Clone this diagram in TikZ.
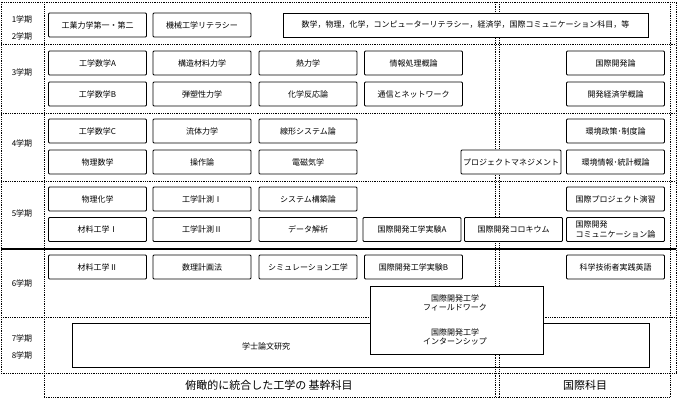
\documentclass[tikz,border=0pt]{standalone}
\usepackage{fontspec}
\setmainfont{Noto Sans CJK JP}
\usetikzlibrary{positioning}
\tikzset{
    course/.style={draw, fill=white, line width=0.8pt, rounded corners=1pt, minimum width=98pt, minimum height=24pt, inner sep=1pt, font=\fontsize{8}{9.5}\selectfont},
    term/.style={font=\fontsize{8}{9.5}\selectfont},
    grid/.style={densely dotted, line width=0.8pt}
}
\begin{document}
\begin{tikzpicture}[x=1pt, y=-1pt]
    \useasboundingbox (0,0) rectangle (679,400);

    % Grid of terms
    \draw[grid] (1,2) rectangle (676,373);
    \draw[grid] (44,2) -- (44,397);
    \foreach \yy in {44,113,181,317} \draw[grid] (1,\yy) -- (676,\yy);
    \draw[line width=1.6pt] (1,249) -- (676,249);
    \draw[grid] (495,2) -- (495,397);
    \draw[grid] (499,2) -- (499,397);
    \draw[grid] (670,2) -- (670,397);
    \draw[grid] (44,397) -- (670,397);

    % Term labels
    \node[term] (t1) at (22,19) {1学期};
    \node[term] (t2) at (22,36) {2学期};
    \node[term] (t3) at (22,72) {3学期};
    \node[term] (t4) at (22,143) {4学期};
    \node[term] (t5) at (22,213) {5学期};
    \node[term] (t6) at (22,283) {6学期};
    \node[term] (t7) at (22,338) {7学期};
    \node[term] (t8) at (22,355) {8学期};

    % Column labels
    \node[font=\fontsize{11}{12}\selectfont] (kikan) at (269,385) {俯瞰的に統合した工学の 基幹科目};
    \node[font=\fontsize{11}{12}\selectfont] (kokusai) at (585,385) {国際科目};

    % 1-2 terms
    \node[course] (kogyo) at (97.5,25) {工業力学第一・第二};
    \node[course] (kikai) at (202,25) {機械工学リテラシー};
    \node[course, minimum width=365pt, rounded corners=0pt] (kyoyo) at (465.5,25)
        {数学，物理，化学，コンピューターリテラシー，経済学，国際コミュニケーション科目，等};

    % 3 term
    \node[course] (suA) at (97.5,63) {工学数学A};
    \node[course] (kozo) at (202,63) {構造材料力学};
    \node[course] (netsu) at (308,63) {熱力学};
    \node[course] (joho) at (413.5,63) {情報処理概論};
    \node[course] (kaihatsu) at (615.5,63) {国際開発論};
    \node[course] (suB) at (97.5,94) {工学数学B};
    \node[course] (dan) at (202,94) {弾塑性力学};
    \node[course] (kagaku) at (308,94) {化学反応論};
    \node[course] (tsushin) at (413.5,94) {通信とネットワーク};
    \node[course] (keizai) at (615.5,94) {開発経済学概論};

    % 4 term
    \node[course] (suC) at (97.5,131) {工学数学C};
    \node[course] (ryutai) at (202,131) {流体力学};
    \node[course] (senkei) at (308,131) {線形システム論};
    \node[course] (seisaku) at (615.5,131) {環境政策･制度論};
    \node[course] (butsuri) at (97.5,162) {物理数学};
    \node[course] (sosa) at (202,162) {操作論};
    \node[course] (denji) at (308,162) {電磁気学};
    \node[course, minimum width=100pt] (pm) at (511,162) {プロジェクトマネジメント};
    \node[course] (tokei) at (615.5,162) {環境情報･統計概論};

    % 5 term
    \node[course] (buka) at (97.5,199) {物理化学};
    \node[course] (keisoku1) at (202,199) {工学計測Ⅰ};
    \node[course] (system) at (308,199) {システム構築論};
    \node[course] (enshu) at (615.5,199) {国際プロジェクト演習};
    \node[course] (zairyo1) at (97.5,229.5) {材料工学Ⅰ};
    \node[course] (keisoku2) at (202,229.5) {工学計測Ⅱ};
    \node[course] (data) at (308,229.5) {データ解析};
    \node[course] (jikkenA) at (412,229.5) {国際開発工学実験A};
    \node[course] (colloq) at (513.5,229.5) {国際開発コロキウム};
    \node[course, align=left] (comm) at (615.5,229.5) {国際開発\\コミュニケーション論};

    % 6 term
    \node[course] (zairyo2) at (97.5,267) {材料工学Ⅱ};
    \node[course] (suri) at (202,267) {数理計画法};
    \node[course] (sim) at (308,267) {シミュレーション工学};
    \node[course] (jikkenB) at (413.5,267) {国際開発工学実験B};
    \node[course] (eigo) at (615.5,267) {科学技術者実践英語};

    % 7-8 terms
    \node[draw, line width=0.8pt, minimum width=577pt, minimum height=44pt] (sotsuron) at (360.5,345) {};
    \node[term] (sotsuronlabel) at (266,346) {学士論文研究};
    \node[draw, fill=white, line width=0.8pt, minimum width=173pt, minimum height=68pt] (field) at (456.5,320) {};
    \node[term, align=center] (fw) at (455,303) {国際開発工学\\フィールドワーク};
    \node[term, align=center] (intern) at (455,337) {国際開発工学\\インターンシップ};
\end{tikzpicture}
\end{document}
